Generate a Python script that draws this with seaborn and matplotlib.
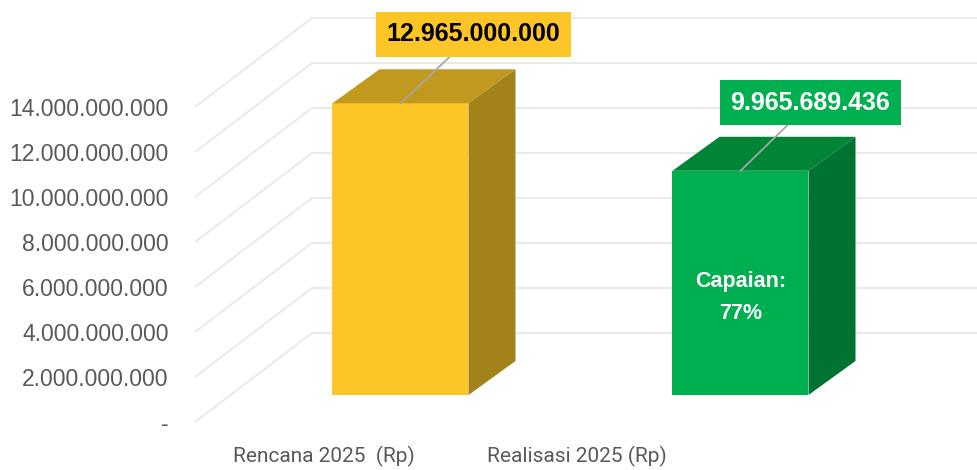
import matplotlib
matplotlib.use("Agg")
import matplotlib.pyplot as plt
from matplotlib.patches import Polygon
import seaborn as sns

# ---- data ----
categories = ["Rencana 2025  (Rp)", "Realisasi 2025 (Rp)"]
values = [12965000000, 9965689436]
tick_values = [0, 2e9, 4e9, 6e9, 8e9, 10e9, 12e9, 14e9]
front_colors = ["#FEC526", "#00B050"]
top_colors = ["#C0991E", "#008537"]
side_colors = ["#A38219", "#007332"]
label_text_colors = ["#000000", "#FFFFFF"]
capaian_pct = round(values[1] / values[0] * 100)

sns.set_theme(style="white")
plt.rcParams["font.family"] = ["Liberation Sans", "DejaVu Sans"]

W, H = 978, 470
fig = plt.figure(figsize=(W / 100, H / 100), dpi=100)

# main axes = plane of the bars' front faces
ax = fig.add_axes([230.5 / W, 75 / H, 680 / W, 360 / H])
ax.set_facecolor("none")

sns.barplot(x=categories, y=values, hue=categories, palette=front_colors,
            width=0.4, saturation=1, legend=False, ax=ax, linewidth=0, zorder=3)
ax.set_xlim(-0.5, 1.5)
ax.set_ylim(0, 16e9)
ax.set_xticks([])
ax.set_yticks([])
ax.set_xlabel("")
ax.set_ylabel("")
for s in ax.spines.values():
    s.set_visible(False)

# pixel -> data conversion for depth offsets
px_x = 680 / 2.0      # pixels per category unit
px_v = 360 / 16e9     # pixels per value unit


def off(x, v, dx_px, dy_px):
    return (x + dx_px / px_x, v + dy_px / px_v)


grid_c = "#E8E8E8"
FRONT = (-35.5, -27)
BACK = (81.5, 62)
for v in tick_values:
    p0 = off(-0.5, v, *FRONT)
    p1 = off(-0.5, v, *BACK)
    p2 = off(1.75, v, BACK[0], BACK[1])
    ax.plot([p0[0], p1[0], p2[0]], [p0[1], p1[1], p2[1]], color=grid_c,
            lw=1.3, zorder=1, clip_on=False, solid_capstyle="butt")

# 3D faces of bars
DEPTH = (47, 34)
label_offsets = [(73, 69), (70, 68)]
for i, p in enumerate(ax.patches):
    x0 = p.get_x()
    x1 = x0 + p.get_width()
    h = p.get_height()
    top = [(x0, h), (x1, h), off(x1, h, *DEPTH), off(x0, h, *DEPTH)]
    side = [(x1, 0), (x1, h), off(x1, h, *DEPTH), off(x1, 0, *DEPTH)]
    ax.add_patch(Polygon(top, closed=True, fc=top_colors[i], ec="none",
                         zorder=3, clip_on=False))
    ax.add_patch(Polygon(side, closed=True, fc=side_colors[i], ec="none",
                         zorder=3, clip_on=False))

    txt = f"{values[i]:,.0f}".replace(",", ".")
    ax.annotate(txt, xy=(x0 + p.get_width() / 2, h), xytext=label_offsets[i],
                textcoords="offset pixels", ha="center", va="center",
                fontsize=18, fontweight="bold", color=label_text_colors[i],
                bbox=dict(boxstyle="square,pad=0.42", fc=front_colors[i], ec="none"),
                arrowprops=dict(arrowstyle="-", color="#A6A6A6", lw=1.3,
                                shrinkA=0, shrinkB=0),
                zorder=6, annotation_clip=False)

ax.text(1, values[1] * 0.435, f"Capaian:\n{capaian_pct}%", ha="center", va="center",
        fontsize=15.5, fontweight="bold", color="white", linespacing=1.7, zorder=6)

# front plane axes carrying the value ticks and category labels
axf = fig.add_axes([195 / W, 48 / H, 506 / W, 315 / H])
axf.set_facecolor("none")
axf.set_ylim(0, 14e9)
axf.set_xlim(-0.51, 1.49)
axf.set_yticks(tick_values)
axf.set_yticklabels(["-" if t == 0 else f"{t:,.0f}".replace(",", ".") for t in tick_values])
axf.set_xticks([0, 1])
axf.set_xticklabels(categories, family=["Liberation Sans Narrow", "Roboto", "DejaVu Sans"],
                    fontsize=15, color="#595959")
axf.tick_params(axis="y", length=0, pad=19, labelsize=16.5, labelcolor="#595959")
axf.tick_params(axis="x", length=0, pad=17)
for s in axf.spines.values():
    s.set_visible(False)

fig.savefig("out.png", dpi=100)
